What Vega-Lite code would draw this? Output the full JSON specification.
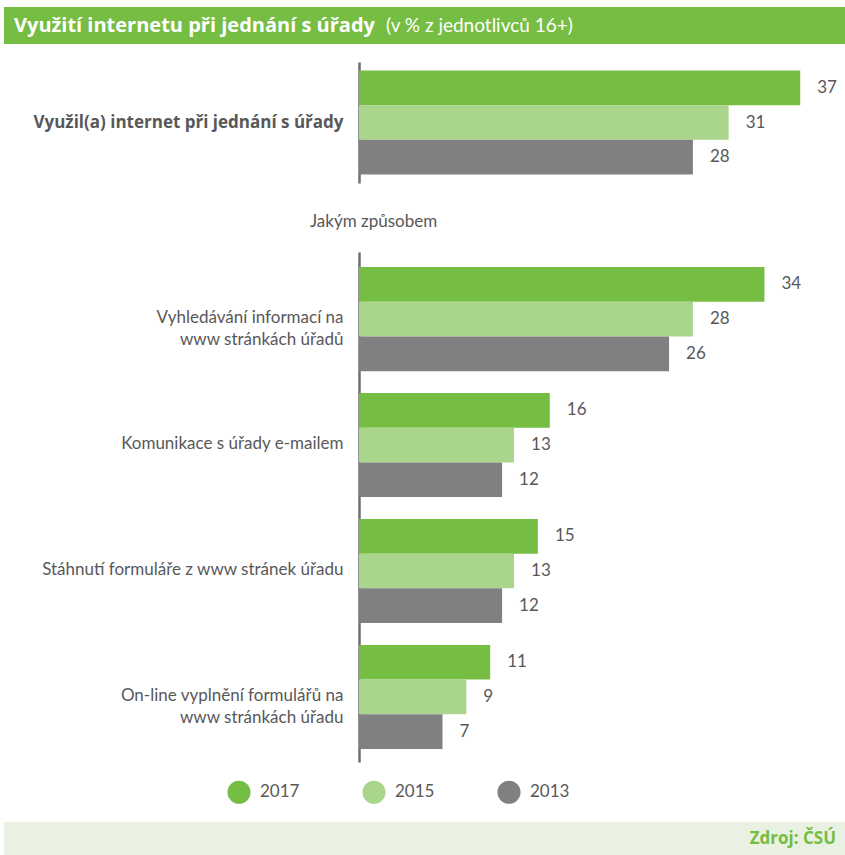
{
  "$schema": "https://vega.github.io/schema/vega-lite/v6.json",
  "padding": {"left": 4, "top": 7, "right": 0, "bottom": 0},
  "background": "white",
  "config": {
    "font": "Lato",
    "view": {"stroke": null},
    "axis": {"labelFont": "Lato", "titleFont": "Lato"},
    "legend": {"labelFont": "Lato", "titleFont": "Lato"},
    "title": {"font": "Lato"}
  },
  "datasets": {
    "hodnoty": [
      {"sekce": 1, "kategorie": "Využil(a) internet při jednání s úřady", "rok": "2017", "podil": 37},
      {"sekce": 1, "kategorie": "Využil(a) internet při jednání s úřady", "rok": "2015", "podil": 31},
      {"sekce": 1, "kategorie": "Využil(a) internet při jednání s úřady", "rok": "2013", "podil": 28},
      {"sekce": 2, "kategorie": "Vyhledávání informací na www stránkách úřadů", "rok": "2017", "podil": 34},
      {"sekce": 2, "kategorie": "Vyhledávání informací na www stránkách úřadů", "rok": "2015", "podil": 28},
      {"sekce": 2, "kategorie": "Vyhledávání informací na www stránkách úřadů", "rok": "2013", "podil": 26},
      {"sekce": 2, "kategorie": "Komunikace s úřady e-mailem", "rok": "2017", "podil": 16},
      {"sekce": 2, "kategorie": "Komunikace s úřady e-mailem", "rok": "2015", "podil": 13},
      {"sekce": 2, "kategorie": "Komunikace s úřady e-mailem", "rok": "2013", "podil": 12},
      {"sekce": 2, "kategorie": "Stáhnutí formuláře z www stránek úřadu", "rok": "2017", "podil": 15},
      {"sekce": 2, "kategorie": "Stáhnutí formuláře z www stránek úřadu", "rok": "2015", "podil": 13},
      {"sekce": 2, "kategorie": "Stáhnutí formuláře z www stránek úřadu", "rok": "2013", "podil": 12},
      {"sekce": 2, "kategorie": "On-line vyplnění formulářů na www stránkách úřadu", "rok": "2017", "podil": 11},
      {"sekce": 2, "kategorie": "On-line vyplnění formulářů na www stránkách úřadu", "rok": "2015", "podil": 9},
      {"sekce": 2, "kategorie": "On-line vyplnění formulářů na www stránkách úřadu", "rok": "2013", "podil": 7}
    ]
  },
  "spacing": 30,
  "resolve": {"scale": {"color": "shared", "x": "shared"}, "legend": {"color": "independent"}},
  "vconcat": [
    {
      "width": 477,
      "height": 121,
      "layer": [
        {
          "data": {"values": [{"nadpis": "Využití internetu při jednání s úřady"}]},
          "mark": {"type": "rect", "color": "#76bd43"},
          "encoding": {
            "x": {"value": -355}, "x2": {"value": 486},
            "y": {"value": -55}, "y2": {"value": -18}
          }
        },
        {
          "data": {"values": [{"nadpis": "Využití internetu při jednání s úřady"}]},
          "mark": {"type": "text", "align": "left", "baseline": "middle", "font": "Open Sans", "fontSize": 20, "fontWeight": "bold", "color": "white"},
          "encoding": {
            "x": {"value": -345}, "y": {"value": -36},
            "text": {"field": "nadpis"}
          }
        },
        {
          "data": {"values": [{"podnadpis": "(v % z jednotlivců 16+)"}]},
          "mark": {"type": "text", "align": "left", "baseline": "middle", "font": "Lato", "fontSize": 19, "fontWeight": "normal", "color": "white"},
          "encoding": {
            "x": {"value": 27}, "y": {"value": -36},
            "text": {"field": "podnadpis"}
          }
        },
        {
          "data": {"name": "hodnoty"},
          "transform": [{"filter": "datum.sekce == 1"}],
          "mark": {"type": "bar"},
          "encoding": {
            "y": {
              "field": "kategorie", "type": "nominal", "sort": null,
              "scale": {"paddingInner": 0.2, "paddingOuter": 0.065},
              "axis": {"title": null, "ticks": false, "grid": false, "domain": true, "domainColor": "#6d6e71", "domainWidth": 2.5, "labelPadding": 16, "labelFont": "Open Sans", "labelFontSize": 17, "labelFontWeight": "bold", "labelColor": "#58585a", "labelLimit": 400}
            },
            "yOffset": {"field": "rok", "type": "nominal", "scale": {"domain": ["2017", "2015", "2013"], "paddingInner": 0, "paddingOuter": 0}},
            "x": {"field": "podil", "type": "quantitative", "scale": {"domain": [0, 40], "nice": false}, "axis": null},
            "color": {"field": "rok", "type": "nominal", "scale": {"domain": ["2017", "2015", "2013"], "range": ["#76bd43", "#aad58c", "#808083"]}, "legend": null}
          }
        },
        {
          "data": {"name": "hodnoty"},
          "transform": [{"filter": "datum.sekce == 1"}],
          "mark": {"type": "text", "align": "left", "baseline": "middle", "dx": 17, "fontSize": 17, "color": "#58585a"},
          "encoding": {
            "y": {"field": "kategorie", "type": "nominal", "sort": null},
            "yOffset": {"field": "rok", "type": "nominal", "scale": {"domain": ["2017", "2015", "2013"], "paddingInner": 0, "paddingOuter": 0}},
            "x": {"field": "podil", "type": "quantitative"},
            "text": {"field": "podil", "type": "quantitative"}
          }
        }
      ]
    },
    {
      "width": 477,
      "height": 510,
      "title": {"text": "Jakým způsobem", "anchor": "start", "frame": "group", "dx": -49, "offset": 4, "baseline": "bottom", "fontSize": 17, "fontWeight": "normal", "color": "#58585a"},
      "layer": [
        {
          "data": {"name": "hodnoty"},
          "transform": [{"filter": "datum.sekce == 2"}],
          "mark": {"type": "bar"},
          "encoding": {
            "y": {
              "field": "kategorie", "type": "nominal", "sort": null,
              "scale": {"paddingInner": 0.19, "paddingOuter": 0.12},
              "axis": {"title": null, "ticks": false, "grid": false, "domain": true, "domainColor": "#6d6e71", "domainWidth": 2.5, "labelPadding": 16, "labelFontSize": 17, "labelColor": "#58585a", "labelLimit": 400, "labelLineHeight": 22,
                "labelExpr": "indexof(datum.label, ' na www') > 0 ? [substring(datum.label, 0, indexof(datum.label, ' www')), substring(datum.label, indexof(datum.label, ' www') + 1)] : datum.label"}
            },
            "yOffset": {"field": "rok", "type": "nominal", "scale": {"domain": ["2017", "2015", "2013"], "paddingInner": 0, "paddingOuter": 0}},
            "x": {"field": "podil", "type": "quantitative", "scale": {"domain": [0, 40], "nice": false}, "axis": null},
            "color": {
              "field": "rok", "type": "nominal",
              "scale": {"domain": ["2017", "2015", "2013"], "range": ["#76bd43", "#aad58c", "#808083"]},
              "legend": {"title": null, "orient": "none", "legendX": -132, "legendY": 528, "direction": "horizontal", "columns": 3, "columnPadding": 62, "symbolType": "circle", "symbolSize": 530, "symbolStrokeWidth": 0, "symbolOpacity": 1, "labelFontSize": 17, "labelColor": "#58585a", "labelOffset": 9, "padding": 0}
            }
          }
        },
        {
          "data": {"name": "hodnoty"},
          "transform": [{"filter": "datum.sekce == 2"}],
          "mark": {"type": "text", "align": "left", "baseline": "middle", "dx": 17, "fontSize": 17, "color": "#58585a"},
          "encoding": {
            "y": {"field": "kategorie", "type": "nominal", "sort": null},
            "yOffset": {"field": "rok", "type": "nominal", "scale": {"domain": ["2017", "2015", "2013"], "paddingInner": 0, "paddingOuter": 0}},
            "x": {"field": "podil", "type": "quantitative"},
            "text": {"field": "podil", "type": "quantitative"}
          }
        },
        {
          "data": {"values": [{"zdroj": "Zdroj: ČSÚ"}]},
          "mark": {"type": "rect", "color": "#e9f2e2"},
          "encoding": {
            "x": {"value": -355}, "x2": {"value": 486},
            "y": {"value": 570}, "y2": {"value": 603}
          }
        },
        {
          "data": {"values": [{"zdroj": "Zdroj: ČSÚ"}]},
          "mark": {"type": "text", "align": "right", "baseline": "middle", "font": "Open Sans", "fontSize": 17, "fontWeight": "bold", "color": "#76bd43"},
          "encoding": {
            "x": {"value": 477}, "y": {"value": 587},
            "text": {"field": "zdroj"}
          }
        }
      ]
    }
  ]
}
